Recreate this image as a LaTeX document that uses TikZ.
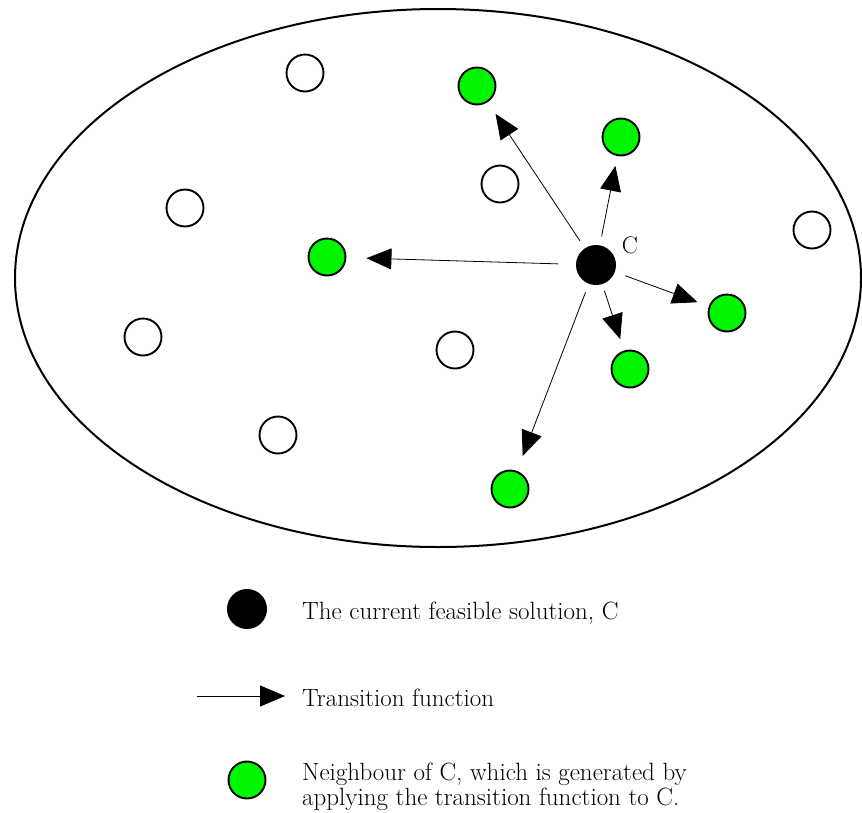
\documentclass[tikz,border=0pt]{standalone}
\usetikzlibrary{arrows.meta}
\definecolor{ngreen}{RGB}{0,245,0}
\begin{document}
\begin{tikzpicture}[x=1pt,y=-1pt,
  sol/.style={circle,draw=black,line width=1.9pt,minimum size=37pt,inner sep=0pt},
  plainsol/.style={sol,fill=white},
  nbr/.style={sol,fill=ngreen},
  cur/.style={circle,fill=black,minimum size=40pt,inner sep=0pt},
  trans/.style={-{Triangle[length=25pt,width=21pt]},line width=0.8pt},
  lbl/.style={anchor=base west,font=\fontsize{25}{23}\selectfont,inner sep=0pt}
]
\useasboundingbox (0,0) rectangle (862,812);
% search space
\draw[line width=2pt] (438,278) ellipse [x radius=423pt, y radius=269pt];
% plain solutions
\node[plainsol] (w1) at (305,73) {};
\node[plainsol] (w2) at (185,208) {};
\node[plainsol] (w3) at (500,184) {};
\node[plainsol] (w4) at (812,230) {};
\node[plainsol] (w5) at (143,337) {};
\node[plainsol] (w6) at (455,350) {};
\node[plainsol] (w7) at (278,435) {};
% neighbours
\node[nbr] (g1) at (477,86) {};
\node[nbr] (g2) at (621,137) {};
\node[nbr] (g3) at (327,257) {};
\node[nbr] (g4) at (727,313) {};
\node[nbr] (g5) at (630,369) {};
\node[nbr] (g6) at (510,489) {};
% current solution
\node[cur] (C) at (596,265) {};
\node[font=\fontsize{24}{24}\selectfont,inner sep=0pt,anchor=base] (Clbl) at (630,253) {C};
% transitions
\draw[trans, shorten <=9pt, shorten >=14pt] (C) -- (g1);
\draw[trans, shorten <=9pt, shorten >=10pt] (C) -- (g2);
\draw[trans, shorten <=18pt, shorten >=20pt] (C) -- (g3);
\draw[trans, shorten <=11pt, shorten >=12pt] (C) -- (g4);
\draw[trans, shorten <=7pt, shorten >=12pt] (C) -- (g5);
\draw[trans, shorten <=9pt, shorten >=16pt] (C) -- (g6);
% legend
\node[cur] (lc) at (247,609) {};
\node[lbl] (t1) at (302,619) {The current feasible solution, C};
\coordinate (la) at (197,696);
\coordinate (lb) at (285,696);
\draw[trans] (la) -- (lb);
\node[lbl] (t2) at (302,706) {Transition function};
\node[nbr] (lg) at (247,780) {};
\node[lbl] (t3a) at (302,780) {Neighbour of C, which is generated by};
\node[lbl] (t3b) at (302,805) {applying the transition function to C.};
\end{tikzpicture}
\end{document}
